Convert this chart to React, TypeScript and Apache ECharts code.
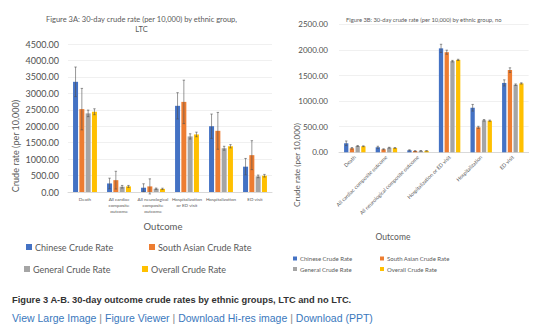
import React, { useEffect, useRef } from 'react';
import * as echarts from 'echarts';

const categoriesA = ['Death', 'All cardiac\ncomposite\noutcome', 'All neurological\ncomposite\noutcome', 'Hospitalization\nor ED visit', 'Hospitalization', 'ED visit'];
const categoriesB = ['Death', 'All cardiac composite outcome', 'All neurological composite outcome', 'Hospitalization or ED visit', 'Hospitalization', 'ED visit'];
const seriesNames = ['Chinese Crude Rate', 'South Asian Crude Rate', 'General Crude Rate', 'Overall Crude Rate'];
const colors = ['#4472C4', '#ED7D31', '#A5A5A5', '#FFC000'];

// Figure 3A: LTC
const ltcChinese = [3350, 260, 130, 2620, 2000, 770];
const ltcSouthAsian = [2520, 360, 170, 2740, 1860, 1120];
const ltcGeneral = [2390, 160, 100, 1690, 1330, 475];
const ltcOverall = [2440, 170, 95, 1750, 1390, 495];
const ltcChineseErr = [450, 160, 120, 400, 370, 250];
const ltcSouthAsianErr = [630, 270, 230, 660, 560, 440];
const ltcGeneralErr = [100, 40, 20, 80, 60, 40];
const ltcOverallErr = [90, 30, 20, 70, 50, 40];

// Figure 3B: no LTC
const noLtcChinese = [176, 98, 39, 2030, 870, 1355];
const noLtcSouthAsian = [78, 59, 25, 1955, 488, 1605];
const noLtcGeneral = [123, 90, 28, 1780, 625, 1320];
const noLtcOverall = [118, 85, 28, 1805, 617, 1345];
const noLtcChineseErr = [45, 20, 10, 80, 65, 60];
const noLtcSouthAsianErr = [15, 10, 8, 40, 20, 45];
const noLtcGeneralErr = [10, 8, 5, 15, 15, 15];
const noLtcOverallErr = [8, 6, 4, 12, 12, 12];

const yTicksA = { min: 0, max: 4500, interval: 500 };
const yTicksB = { min: 0, max: 2500, interval: 500 };

const captionText = 'Figure 3 A-B. 30-day outcome crude rates by ethnic groups, LTC and no LTC.';
const linkTexts = ['View Large Image', 'Figure Viewer', 'Download Hi-res image', 'Download (PPT)'];

const FONT = 'Lato, "Open Sans", sans-serif';
const TXT = '#595959';

function makeErrSeries(grid: number, idx: number, vals: number[], errs: number[], barW: number, gap: number) {
  return {
    type: 'custom',
    xAxisIndex: grid,
    yAxisIndex: grid,
    silent: true,
    z: 10,
    data: vals.map((v, i) => [i, v - errs[i], v + errs[i]]),
    renderItem: (params: any, api: any) => {
      const lo = api.coord([api.value(0), api.value(1)]);
      const hi = api.coord([api.value(0), api.value(2)]);
      const x = lo[0] + (idx - 1.5) * (barW + gap);
      const cap = 1.2;
      const st = { stroke: '#505050', lineWidth: 0.6 };
      return {
        type: 'group',
        children: [
          { type: 'line', shape: { x1: x, y1: lo[1], x2: x, y2: hi[1] }, style: st },
          { type: 'line', shape: { x1: x - cap, y1: hi[1], x2: x + cap, y2: hi[1] }, style: st },
          { type: 'line', shape: { x1: x - cap, y1: lo[1], x2: x + cap, y2: lo[1] }, style: st },
        ],
      };
    },
  };
}

function makeBar(grid: number, idx: number, vals: number[], barW: number, gapPct: string) {
  return {
    type: 'bar',
    name: seriesNames[idx],
    xAxisIndex: grid,
    yAxisIndex: grid,
    data: vals,
    barWidth: barW,
    barGap: gapPct,
    itemStyle: { color: colors[idx] },
  };
}

function legendItem(name: string, left: number, top: number, size: number, font: number) {
  return {
    data: [name],
    left,
    top,
    icon: 'rect',
    itemWidth: size,
    itemHeight: size,
    padding: 0,
    selectedMode: false,
    textStyle: { color: TXT, fontSize: font, fontFamily: FONT, padding: [0, 0, 0, -2] },
  };
}

export default function App() {
  const ref = useRef<HTMLDivElement>(null);
  useEffect(() => {
    if (!ref.current) return;
    const chart = echarts.init(ref.current, undefined, { renderer: 'svg' });
    const ltcVals = [ltcChinese, ltcSouthAsian, ltcGeneral, ltcOverall];
    const ltcErrs = [ltcChineseErr, ltcSouthAsianErr, ltcGeneralErr, ltcOverallErr];
    const noVals = [noLtcChinese, noLtcSouthAsian, noLtcGeneral, noLtcOverall];
    const noErrs = [noLtcChineseErr, noLtcSouthAsianErr, noLtcGeneralErr, noLtcOverallErr];
    const wA = 5, gA = 1.3, wB = 4.3, gB = 1.4;

    const series: any[] = [];
    ltcVals.forEach((v, i) => series.push(makeBar(0, i, v, wA, (gA / wA * 100).toFixed(0) + '%')));
    noVals.forEach((v, i) => series.push(makeBar(1, i, v, wB, (gB / wB * 100).toFixed(0) + '%')));
    ltcVals.forEach((v, i) => series.push(makeErrSeries(0, i, v, ltcErrs[i], wA, gA)));
    noVals.forEach((v, i) => series.push(makeErrSeries(1, i, v, noErrs[i], wB, gB)));

    const linkRich: any = {
      a: { fill: '#3a78bd', fontSize: 10.5, fontFamily: '"Liberation Sans", Arial, sans-serif' },
      s: { fill: '#888888', fontSize: 10.5, fontFamily: '"Liberation Sans", Arial, sans-serif' },
    };
    const linkStr = linkTexts.map((t) => `{a|${t}}`).join('{s| | }');

    chart.setOption({
      animation: false,
      backgroundColor: '#ffffff',
      textStyle: { fontFamily: FONT },
      grid: [
        { left: 68, width: 204, top: 44, height: 148 },
        { left: 339, width: 189.6, top: 24.3, height: 128 },
      ],
      xAxis: [
        {
          type: 'category', gridIndex: 0, data: categoriesA,
          axisLine: { lineStyle: { color: '#D9D9D9' } },
          axisTick: { show: false },
          axisLabel: { interval: 0, color: TXT, fontSize: 4.6, lineHeight: 6, margin: 4, fontFamily: FONT },
        },
        {
          type: 'category', gridIndex: 1, data: categoriesB,
          axisLine: { lineStyle: { color: '#D9D9D9' } },
          axisTick: { show: false },
          axisLabel: { interval: 0, rotate: 45, color: TXT, fontSize: 5.2, margin: 4, fontFamily: FONT },
        },
      ],
      yAxis: [
        {
          type: 'value', gridIndex: 0, ...yTicksA,
          axisLine: { show: false }, axisTick: { show: false },
          splitLine: { lineStyle: { color: '#E6E6E6', width: 0.6 } },
          axisLabel: { color: '#505050', fontSize: 9, margin: 9, fontFamily: FONT, formatter: (v: number) => v.toFixed(2) },
        },
        {
          type: 'value', gridIndex: 1, ...yTicksB,
          axisLine: { show: false }, axisTick: { show: false },
          splitLine: { lineStyle: { color: '#E6E6E6', width: 0.6 } },
          axisLabel: { color: '#505050', fontSize: 8, margin: 11, fontFamily: FONT, formatter: (v: number) => v.toFixed(2) },
        },
      ],
      legend: [
        legendItem(seriesNames[0], 26, 242.5, 6, 9),
        legendItem(seriesNames[1], 149, 242.5, 6, 9),
        legendItem(seriesNames[2], 24, 264.5, 6, 9),
        legendItem(seriesNames[3], 142, 264.5, 6, 9),
        legendItem(seriesNames[0], 293, 255.5, 4, 6),
        legendItem(seriesNames[1], 380, 255.5, 4, 6),
        legendItem(seriesNames[2], 293, 266, 4, 6),
        legendItem(seriesNames[3], 380, 266, 4, 6),
      ],
      graphic: [
        {
          type: 'text', style: {
            x: 141.5, y: 24, text: 'Figure 3A: 30-day crude rate (per 10,000) by ethnic group,\nLTC',
            fill: TXT, fontSize: 7.5, lineHeight: 10, fontFamily: FONT, align: 'center', verticalAlign: 'middle',
          },
        },
        {
          type: 'text', style: {
            x: 346, y: 19, text: 'Figure 3B: 30-day crude rate (per 10,000) by ethnic group, no',
            fill: TXT, fontSize: 5.8, fontFamily: FONT, align: 'left', verticalAlign: 'middle',
          },
        },
        {
          type: 'text', style: {
            x: 15, y: 146, text: 'Crude rate (per 10,000)', fill: TXT, fontSize: 9, fontFamily: FONT,
            align: 'center', verticalAlign: 'middle',
          }, rotation: Math.PI / 2, originX: 15, originY: 146,
        },
        {
          type: 'text', style: {
            x: 297, y: 165, text: 'Crude rate (per 10,000)', fill: TXT, fontSize: 8.2, fontFamily: FONT,
            align: 'center', verticalAlign: 'middle',
          }, rotation: Math.PI / 2, originX: 297, originY: 165,
        },
        {
          type: 'text', style: {
            x: 163, y: 226, text: 'Outcome', fill: TXT, fontSize: 9.5, fontFamily: FONT,
            align: 'center', verticalAlign: 'middle',
          },
        },
        {
          type: 'text', style: {
            x: 393, y: 237, text: 'Outcome', fill: TXT, fontSize: 8.5, fontFamily: FONT,
            align: 'center', verticalAlign: 'middle',
          },
        },
        {
          type: 'text', style: {
            x: 12, y: 300, text: captionText, fill: '#333333', fontSize: 9.3, fontWeight: 'bold',
            fontFamily: '"Liberation Sans", Arial, sans-serif', align: 'left', verticalAlign: 'middle',
          },
        },
        {
          type: 'text', style: {
            x: 12, y: 318, text: linkStr, rich: linkRich, fontSize: 10.5, align: 'left', verticalAlign: 'middle',
          },
        },
      ],
      series,
    });
    return () => chart.dispose();
  }, []);
  return <div ref={ref} style={{ position: 'absolute', left: 0, top: 0, width: 546, height: 325 }} />;
}
